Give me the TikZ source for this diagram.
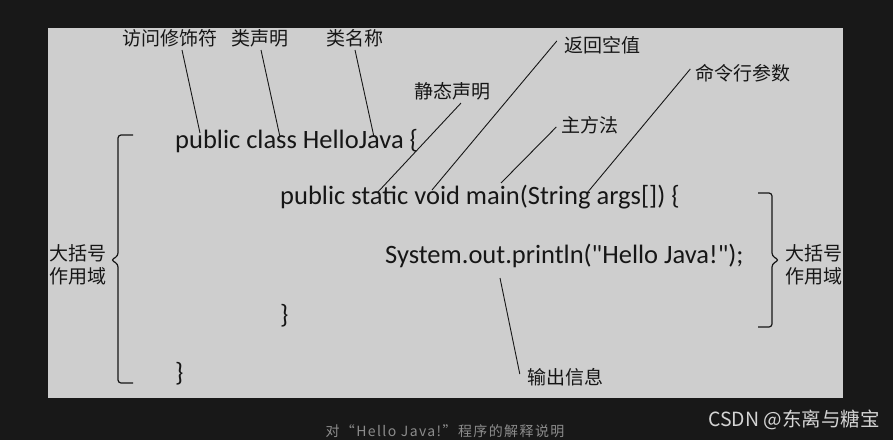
\documentclass[tikz,border=0pt]{standalone}
\usepackage{fontspec}
\setmainfont{Carlito}
\newfontfamily\codefont{Carlito}
\newfontfamily\cjk{Noto Sans CJK SC}
\newfontfamily\capfont{Noto Sans CJK SC}[LetterSpace=10]
\usetikzlibrary{calc}
\definecolor{pagebg}{RGB}{24,24,24}
\definecolor{panel}{RGB}{206,206,206}
\definecolor{ink}{RGB}{22,22,22}
\definecolor{captiongray}{RGB}{140,140,140}
\definecolor{markgray}{RGB}{212,212,212}
\tikzset{code/.style={anchor=base west,inner sep=0pt,text=ink,font=\codefont\fontsize{26.5}{30}\selectfont},
  tag/.style={inner sep=0pt,text=ink,font=\cjk\fontsize{19}{23}\selectfont},
  lead/.style={draw=ink,line width=0.9pt},
  scopebrace/.style={draw=ink,line width=1.2pt,rounded corners=3pt}}

\begin{document}
\begin{tikzpicture}[x=1pt,y=-1pt]
    \fill[pagebg] (0,0) rectangle (893,440);
    \fill[panel] (48,28) rectangle (843,398);
    \useasboundingbox (0,0) rectangle (893,440);
    % code
    \node[code] (cls) at (175,148) {public class HelloJava \{};
    \node[code] (mth) at (280,204) {public static void main(String args[]) \{};
    \node[code] (prn) at (385,263) {System.out.println("Hello Java!");};
    \node[code] (mthclose) at (280,323) {\}};
    \node[code] (clsclose) at (175,381) {\}};
    % labels
    \node[tag] (access) at (170,38) {访问修饰符};
    \node[tag] (decl) at (260,38) {类声明};
    \node[tag] (cname) at (355,38) {类名称};
    \node[tag] (static) at (452,91) {静态声明};
    \node[tag] (void) at (602,45) {返回空值};
    \node[tag] (args) at (743,73) {命令行参数};
    \node[tag] (main) at (590,125) {主方法};
    \node[tag] (out) at (565,377) {输出信息};
    \node[tag,align=center] (outer) at (78,265) {大括号\\作用域};
    \node[tag,align=center,anchor=west] (inner) at (785,265) {大括号\\作用域};
    % leader ends
    \coordinate (accessend) at (200,133);
    \coordinate (declend) at (280,137);
    \coordinate (cnameend) at (374,137);
    \coordinate (staticend) at (377,193);
    \coordinate (voidend) at (432,190);
    \coordinate (mainend) at (501,183);
    \coordinate (argsend) at (587,193);
    \coordinate (outend) at (500,278);
    \draw[lead] ([xshift=12pt,yshift=-3pt]access.south) -- (accessend);
    \draw[lead] ([xshift=1pt,yshift=-3pt]decl.south) -- (declend);
    \draw[lead] ([yshift=-3pt]cname.south) -- (cnameend);
    \draw[lead] ([xshift=9pt,yshift=-3pt]static.south) -- (staticend);
    \draw[lead] ([xshift=-7pt,yshift=4pt]void.west) -- (voidend);
    \draw[lead] ([xshift=-5pt,yshift=4pt]args.west) -- (argsend);
    \draw[lead] ([xshift=-5pt,yshift=-2pt]main.west) -- (mainend);
    \draw[lead] ([xshift=-7pt,yshift=3pt]out.west) -- (outend);
    % braces
    \draw[scopebrace] (133,135) -- (118,135) -- (118,256) -- (111,260) -- (118,264) -- (118,383) -- (133,383);
    \draw[scopebrace] (758,193) -- (772,193) -- (772,256) -- (779,260) -- (772,264) -- (772,327) -- (758,327);
    % caption and mark
    \node[text=captiongray,inner sep=0pt,font=\capfont\fontsize{14}{16}\selectfont] (caption) at (445,431) {对“Hello Java!”程序的解释说明};
    \node[text=markgray,inner sep=0pt,font=\cjk\fontsize{19.5}{22}\selectfont] (mark) at (794,420) {CSDN @东离与糖宝};
\end{tikzpicture}
\end{document}
